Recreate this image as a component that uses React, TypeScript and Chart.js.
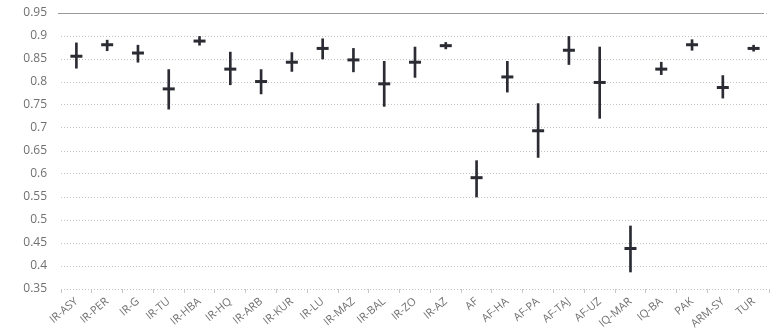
import React, { useEffect, useRef } from "react";
import { Chart, registerables } from "chart.js";

Chart.register(...registerables);

const categories = [
  "IR-ASY", "IR-PER", "IR-G", "IR-TU", "IR-HBA", "IR-HQ", "IR-ARB", "IR-KUR",
  "IR-LU", "IR-MAZ", "IR-BAL", "IR-ZO", "IR-AZ", "AF", "AF-HA", "AF-PA",
  "AF-TAJ", "AF-UZ", "IQ-MAR", "IQ-BA", "PAK", "ARM-SY", "TUR",
];

const lowValues = [
  0.830, 0.868, 0.843, 0.741, 0.880, 0.794, 0.774, 0.823,
  0.850, 0.822, 0.747, 0.810, 0.872, 0.550, 0.778, 0.636,
  0.838, 0.721, 0.387, 0.816, 0.869, 0.765, 0.867,
];

const highValues = [
  0.885, 0.891, 0.880, 0.827, 0.899, 0.865, 0.827, 0.864,
  0.894, 0.873, 0.845, 0.876, 0.886, 0.629, 0.845, 0.753,
  0.899, 0.876, 0.487, 0.843, 0.892, 0.814, 0.880,
];

const meanValues = [
  0.856, 0.881, 0.863, 0.785, 0.889, 0.828, 0.801, 0.843,
  0.873, 0.848, 0.796, 0.843, 0.879, 0.592, 0.811, 0.694,
  0.869, 0.799, 0.438, 0.828, 0.881, 0.788, 0.873,
];

const yTicks = { min: 0.35, max: 0.95, step: 0.05 };

const topLinePlugin = {
  id: "topLine",
  afterDraw(chart: any) {
    const { ctx, chartArea } = chart;
    const y = chart.scales.y.getPixelForValue(yTicks.max);
    ctx.save();
    ctx.strokeStyle = "#9a9a9a";
    ctx.lineWidth = 1;
    ctx.beginPath();
    ctx.moveTo(chartArea.left - 3, Math.round(y) + 0.5);
    ctx.lineTo(chartArea.right - 5, Math.round(y) + 0.5);
    ctx.stroke();
    ctx.restore();
  },
};

export default function App() {
  const ref = useRef<HTMLCanvasElement | null>(null);

  useEffect(() => {
    document.body.style.margin = "0";
    const canvas = ref.current;
    if (!canvas) return;
    const font = { family: "'Open Sans', sans-serif", size: 11 };
    const chart = new Chart(canvas, {
      type: "bar",
      data: {
        labels: categories,
        datasets: [
          {
            type: "line",
            label: "mean",
            data: meanValues,
            showLine: false,
            pointStyle: "line",
            pointRadius: 6,
            pointHoverRadius: 6,
            borderWidth: 3,
            borderColor: "#2b2b33",
            backgroundColor: "#2b2b33",
          } as any,
          {
            type: "bar",
            label: "range",
            data: categories.map((_, i) => [lowValues[i], highValues[i]]),
            backgroundColor: "#2b2b33",
            barThickness: 2,
          } as any,
        ],
      },
      options: {
        responsive: false,
        animation: false,
        plugins: { legend: { display: false }, tooltip: { enabled: false } },
        layout: { padding: { top: 13, right: 1, left: 0, bottom: 0 } },
        scales: {
          x: {
            offset: true,
            grid: {
              offset: true,
              drawOnChartArea: false,
              drawTicks: true,
              tickLength: 4,
              tickColor: "#c8c8c8",
            },
            border: { display: false },
            ticks: {
              autoSkip: false,
              minRotation: 40,
              maxRotation: 40,
              color: "#707070",
              font,
              padding: 2,
            },
            afterFit(scale: any) {
              scale.height = 45;
            },
          },
          y: {
            min: yTicks.min,
            max: yTicks.max,
            ticks: {
              stepSize: yTicks.step,
              color: "#707070",
              font: { family: "'Open Sans', sans-serif", size: 12 },
              padding: 0,
              callback: (v: any) => String(Number(Number(v).toFixed(2))),
            },
            grid: {
              color: "#c4c4c4",
              lineWidth: 1,
              drawTicks: true,
              tickLength: 14,
              tickColor: "rgba(0,0,0,0)",
            },
            border: { display: false, dash: [1, 2] },
            afterFit(scale: any) {
              scale.width = 61;
            },
          },
        },
      },
      plugins: [topLinePlugin],
    });
    return () => chart.destroy();
  }, []);

  return (
    <div style={{ width: 778, height: 334 }}>
      <canvas ref={ref} width={778} height={334} />
    </div>
  );
}
